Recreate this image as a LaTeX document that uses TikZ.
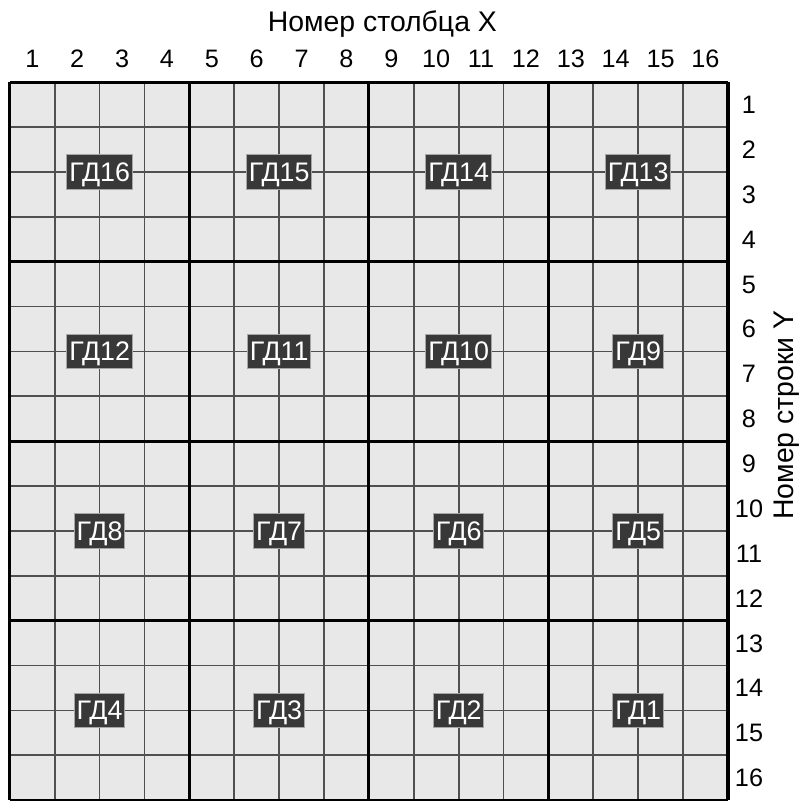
\documentclass[tikz,border=0pt]{standalone}
\usepackage{fontspec}
\setmainfont{Liberation Sans}
\usetikzlibrary{positioning}
\definecolor{gcell}{HTML}{E8E8E8}
\definecolor{gline}{HTML}{505050}
\definecolor{gtag}{HTML}{383838}

\begin{document}
\begin{tikzpicture}[
  tag/.style={rectangle, draw=gray!70, fill=gtag, text=white, line width=0.6pt,
    font=\fontsize{17}{19}\selectfont, inner xsep=1.5pt, inner ysep=4pt,
    text height=13pt, text depth=1pt},
  num/.style={font=\fontsize{16}{18}\selectfont, inner sep=0pt, anchor=base},
  cellline/.style={draw=gline, line width=1.1pt},
  blockline/.style={draw=black, line width=2pt}
]
\useasboundingbox (-0.22,-16) rectangle (17.74,1.83);
\fill[gcell] (0,0) rectangle (16,-16);

% grid
\foreach \i in {1,...,15} {
  \draw[cellline] (\i,0) -- (\i,-16);
  \draw[cellline] (0,-\i) -- (16,-\i);
}
\foreach \i in {0,4,...,16} {
  \draw[blockline] (\i,0) -- (\i,-16);
  \draw[blockline] (0,-\i) -- (16,-\i);
}

% detector tags
\foreach \bx in {0,...,3} {
  \foreach \by in {0,...,3} {
    \pgfmathtruncatemacro{\n}{16-4*\by-\bx}
    \node[tag] (gd\n) at (4*\bx+2, -4*\by-2) {ГД\n};
  }
}

% axes
\foreach \c in {1,...,16}
  \node[num] (col\c) at (\c-0.5, 0.33) {\c};
\foreach \r in {1,...,16}
  \node[num] (row\r) at (16.47, -\r+0.3) {\r};
\node[num, font=\fontsize{18}{20}\selectfont] (xtitle) at (8.3, 1.13) {Номер столбца X};
\node[num, font=\fontsize{18}{20}\selectfont, rotate=90, anchor=center] (ytitle) at (17.31, -7.42) {Номер строки Y};
\end{tikzpicture}
\end{document}
